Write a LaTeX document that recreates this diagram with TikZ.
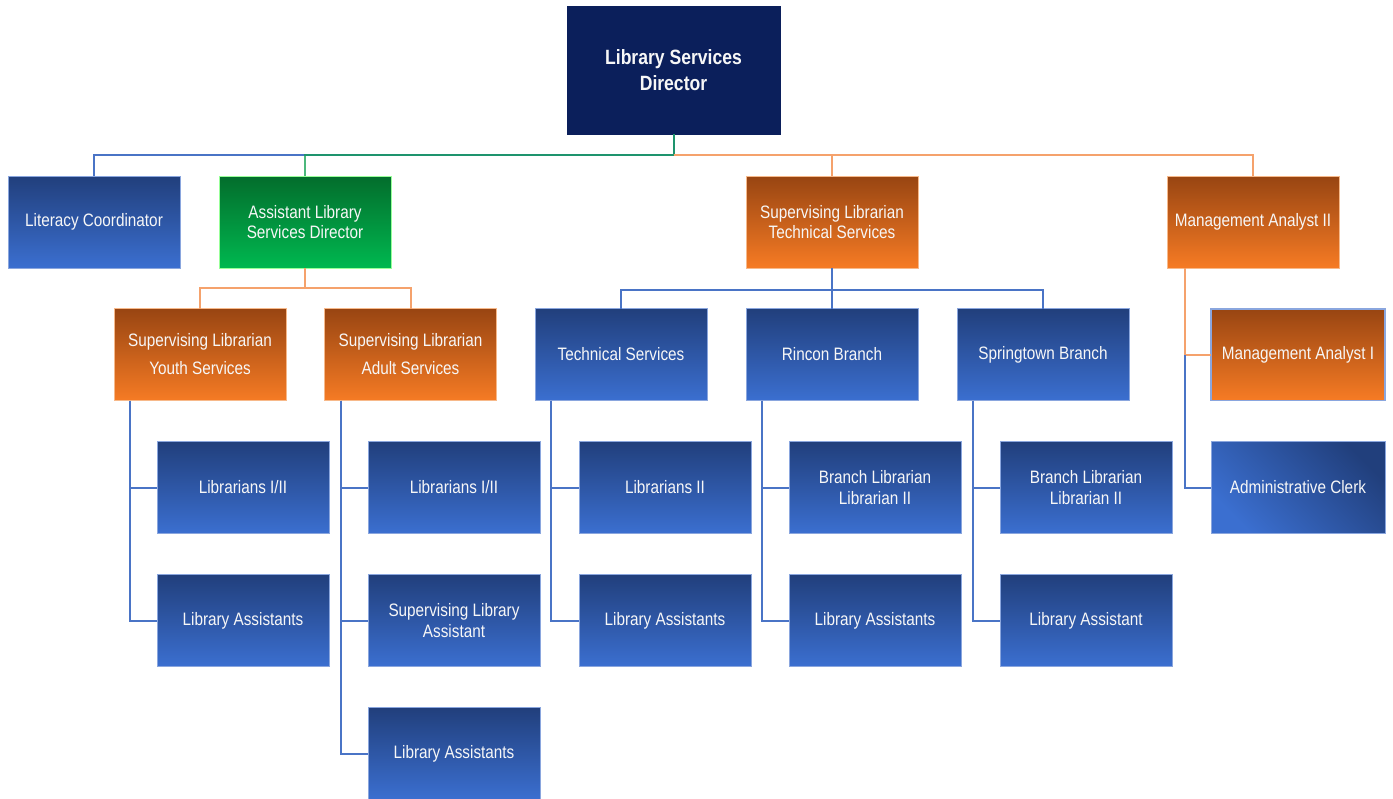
\documentclass[tikz,border=0pt]{standalone}
\usepackage{fontspec}
\setmainfont[FakeStretch=0.85]{Liberation Sans}
\usetikzlibrary{calc}
\definecolor{navy}{HTML}{0B1F5B}
\definecolor{bluetop}{HTML}{213F7C}
\definecolor{bluebot}{HTML}{3B6FD0}
\definecolor{orgtop}{HTML}{984512}
\definecolor{orgbot}{HTML}{F67B24}
\definecolor{grntop}{HTML}{036D2C}
\definecolor{grnbot}{HTML}{00B850}
\definecolor{lineblue}{HTML}{4A74C6}
\definecolor{lineorange}{HTML}{F5A26C}
\definecolor{linegreen}{HTML}{10A050}
\definecolor{edgeblue}{HTML}{8AA6DE}
\definecolor{edgeorange}{HTML}{F7B98A}
\tikzset{
  box/.style={rectangle, inner sep=0pt, outer sep=0pt, minimum width=129pt, minimum height=69pt,
    align=center, text=white!94!gray, font=\fontsize{13.5}{15.5}\selectfont, line width=0.6pt},
  bluebox/.style={box, top color=bluetop, bottom color=bluebot, draw=edgeblue},
  orangebox/.style={box, top color=orgtop, bottom color=orgbot, draw=edgeorange},
  greenbox/.style={box, top color=grntop, bottom color=grnbot, draw=green!40!white},
  wide/.style={minimum width=130.5pt, minimum height=68.5pt},
  tall/.style={font=\fontsize{13.5}{21}\selectfont},
  conn/.style={line width=1.5pt},
  cblue/.style={conn, draw=lineblue},
  corange/.style={conn, draw=lineorange},
  cgreen/.style={conn, draw=linegreen, draw opacity=0.75},
}
\begin{document}
\begin{tikzpicture}[x=0.75pt,y=-0.75pt]
\useasboundingbox (0,0) rectangle (1393,799);

% top level
\node[box, fill=navy, draw=navy, minimum width=159.75pt, minimum height=96pt,
  font=\bfseries\fontsize{15.5}{19}\selectfont] (dir) at (673.5,70) {Library Services\\Director};

% first row
\node[bluebox] (lit) at (94,222) {Literacy Coordinator};
\node[greenbox] (alsd) at (305,222) {Assistant Library\\Services Director};
\node[orangebox] (sts) at (832,222) {Supervising Librarian\\Technical Services};
\node[orangebox] (ma2) at (1253,222) {Management Analyst II};

% second row
\node[orangebox, tall] (youth) at (200,354.5) {Supervising Librarian\\Youth Services};
\node[orangebox, tall] (adult) at (410.5,354.5) {Supervising Librarian\\Adult Services};
\node[bluebox] (tech) at (621,354.5) {Technical Services};
\node[bluebox] (rincon) at (832,354.5) {Rincon Branch};
\node[bluebox] (spring) at (1043,354.5) {Springtown Branch};
\node[orangebox, wide, draw=edgeblue, line width=1pt] (ma1) at (1298,354.5) {Management Analyst I};
\node[bluebox, wide, top color=bluebot, bottom color=bluebot, shading=axis,
  top color=bluebot, bottom color=bluetop, shading angle=135] (admin) at (1298,487.5) {Administrative Clerk};

% youth services staff
\node[bluebox] (y1) at (243,487.5) {Librarians I/II};
\node[bluebox] (y2) at (243,620.5) {Library Assistants};
% adult services staff
\node[bluebox] (a1) at (454,487.5) {Librarians I/II};
\node[bluebox] (a2) at (454,620.5) {Supervising Library\\Assistant};
\node[bluebox] (a3) at (454,753.5) {Library Assistants};
% technical services staff
\node[bluebox] (t1) at (665,487.5) {Librarians II};
\node[bluebox] (t2) at (665,620.5) {Library Assistants};
% rincon branch staff
\node[bluebox] (r1) at (875,487.5) {Branch Librarian\\Librarian II};
\node[bluebox] (r2) at (875,620.5) {Library Assistants};
% springtown branch staff
\node[bluebox] (s1) at (1086,487.5) {Branch Librarian\\Librarian II};
\node[bluebox] (s2) at (1086,620.5) {Library Assistant};

% director connectors
\draw[cblue] (dir.south) -- ++(0,21) -| (lit.north);
\draw[cgreen] (dir.south) -- ++(0,21) -| (alsd.north);
\draw[corange] (dir.south) ++(0,21) -| (sts.north);
\draw[corange] (dir.south) ++(0,21) -| (ma2.north);

% assistant director connectors
\draw[corange] (alsd.south) -- ++(0,20) -| (youth.north);
\draw[corange] (alsd.south) -- ++(0,20) -| (adult.north);

% technical services connectors
\draw[cblue] (sts.south) -- ++(0,22) -| (tech.north);
\draw[cblue] (sts.south) -- ++(0,22) -| (rincon.north);
\draw[cblue] (sts.south) -- ++(0,22) -| (spring.north);

% management analyst connectors
\coordinate (mspine) at ($(ma2.south west)+(18,0)$);
\draw[corange] (mspine) |- (ma1.west);
\draw[cblue] (mspine |- ma1.west) |- (admin.west);

% staff connectors
\foreach \p/\kids in {youth/{y1,y2}, adult/{a1,a2,a3}, tech/{t1,t2}, rincon/{r1,r2}, spring/{s1,s2}}{
  \foreach \k in \kids {
    \draw[cblue] ($(\p.south west)+(16,0)$) |- (\k.west);
  }
}
\end{tikzpicture}
\end{document}
